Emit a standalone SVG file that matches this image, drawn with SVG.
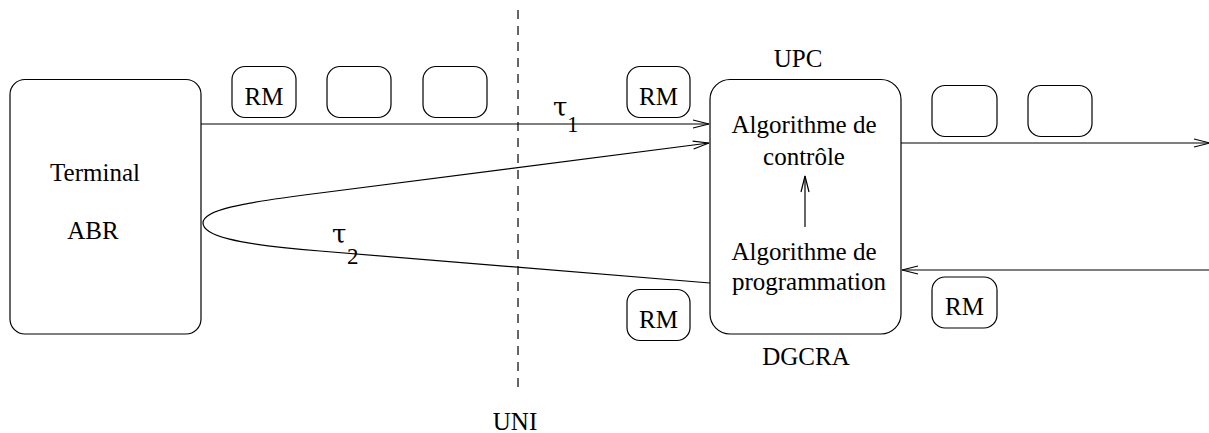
<svg xmlns="http://www.w3.org/2000/svg" width="1209" height="433" viewBox="0 0 1209 433">
  <style>
    .box { fill: none; stroke: #000; stroke-width: 1.2; }
    .cell { fill: none; stroke: #000; stroke-width: 1.2; }
    .line { fill: none; stroke: #000; stroke-width: 1.2; }
    .dash { fill: none; stroke: #000; stroke-width: 1.2; stroke-dasharray: 9 7; }
    text { font-family: "Liberation Serif", "Times New Roman", serif; font-size: 25px; fill: #000; }
    .mid { text-anchor: middle; }
    .sym { font-family: "DejaVu Serif", serif; font-size: 26px; }
    .sub { font-size: 23px; }
  </style>
  <defs>
    <marker id="open" viewBox="0 0 18 10" refX="17" refY="5" markerWidth="18" markerHeight="10" markerUnits="userSpaceOnUse" orient="auto">
      <path d="M1,1 L17,5 L1,9" fill="none" stroke="#000" stroke-width="1.2"/>
    </marker>
  </defs>

  <rect width="1209" height="433" fill="#fff"/>

  <!-- UNI boundary -->
  <g id="uni">
    <line class="dash" x1="518" y1="10" x2="518" y2="392"/>
    <text class="mid" x="515" y="430">UNI</text>
  </g>

  <!-- connectors -->
  <g id="connectors">
    <line class="line" x1="201" y1="124" x2="709" y2="124" marker-end="url(#open)"/>
    <path class="line" d="M710,283 L320,251 C232,244 203,235 203,223 C203,210 240,203 320,193 L709,143" marker-end="url(#open)"/>
    <line class="line" x1="901" y1="143" x2="1210" y2="143" marker-end="url(#open)"/>
    <line class="line" x1="1209" y1="270" x2="902" y2="270" marker-end="url(#open)"/>
    <line class="line" x1="805" y1="227" x2="805" y2="176" marker-end="url(#open)"/>
  </g>

  <!-- rate labels (symbol with lowered index) -->
  <g id="tau1">
    <text class="sym" x="553" y="116">τ</text>
    <text class="sub" x="567" y="132">1</text>
  </g>
  <g id="tau2">
    <text class="sym" x="332" y="243">τ</text>
    <text class="sub" x="347" y="264">2</text>
  </g>

  <!-- ABR terminal -->
  <g id="terminal">
    <rect class="box" x="10" y="79.5" width="191" height="254.5" rx="15"/>
    <text class="mid" x="95" y="181">Terminal</text>
    <text class="mid" x="93" y="239">ABR</text>
  </g>

  <!-- UPC / DGCRA block -->
  <g id="upc">
    <rect class="box" x="710" y="79.5" width="191" height="254.5" rx="20"/>
    <text class="mid" x="798" y="67">UPC</text>
    <text class="mid" x="804" y="133">Algorithme de</text>
    <text class="mid" x="804" y="165">contrôle</text>
    <text class="mid" x="804" y="260">Algorithme de</text>
    <text class="mid" x="809" y="290">programmation</text>
    <text class="mid" x="806" y="365">DGCRA</text>
  </g>

  <!-- cells on the links -->
  <g id="cell-rm1">
    <rect class="cell" x="232" y="66.5" width="64" height="51" rx="13"/>
    <text class="mid" x="264" y="105">RM</text>
  </g>
  <g id="cell-2">
    <rect class="cell" x="327" y="66.5" width="64" height="51" rx="13"/>
  </g>
  <g id="cell-3">
    <rect class="cell" x="423" y="66.5" width="64" height="51" rx="13"/>
  </g>
  <g id="cell-rm2">
    <rect class="cell" x="627" y="66.5" width="63" height="51" rx="13"/>
    <text class="mid" x="658.5" y="105">RM</text>
  </g>
  <g id="cell-rm3">
    <rect class="cell" x="627" y="289.5" width="63" height="51" rx="13"/>
    <text class="mid" x="658.5" y="328">RM</text>
  </g>
  <g id="cell-4">
    <rect class="cell" x="932" y="85.5" width="65" height="51" rx="13"/>
  </g>
  <g id="cell-5">
    <rect class="cell" x="1028" y="85.5" width="64" height="51" rx="13"/>
  </g>
  <g id="cell-rm4">
    <rect class="cell" x="932" y="277" width="65" height="51" rx="13"/>
    <text class="mid" x="964.5" y="315">RM</text>
  </g>
</svg>
